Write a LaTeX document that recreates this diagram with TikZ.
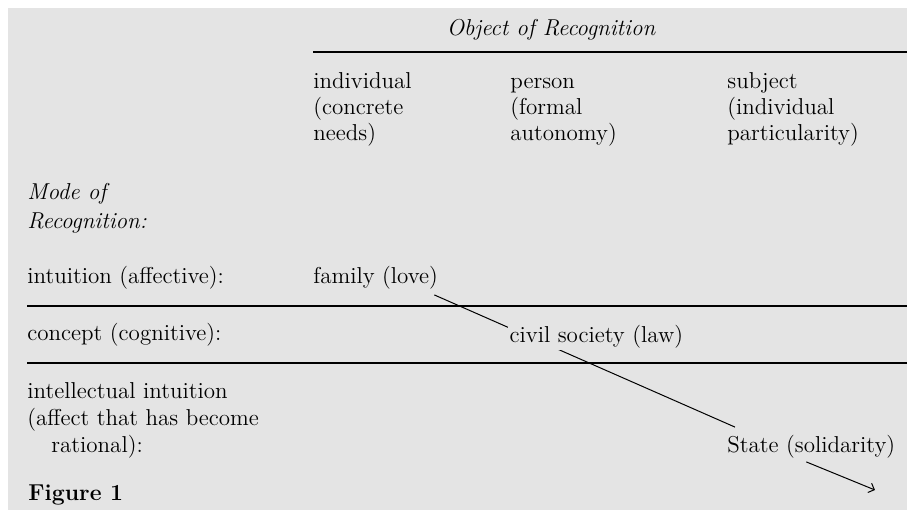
\documentclass[tikz,border=0pt]{standalone}
\usepackage{tikz}
\usetikzlibrary{arrows.meta,positioning}
\definecolor{paper}{RGB}{228,228,228}

\begin{document}
\begin{tikzpicture}[
    x=0.5pt, y=-0.5pt,
    >=Straight Barb,
    txt/.style={inner sep=0pt, anchor=west, align=left, font=\fontsize{11.5}{13.5}\selectfont},
    colhead/.style={txt, anchor=north west, font=\fontsize{11.5}{13}\selectfont},
    head/.style={txt, font=\fontsize{11.5}{14.5}\selectfont\itshape},
    rule/.style={line width=0.7pt},
    link/.style={line width=0.5pt}
]
\useasboundingbox (0,0) rectangle (907,510);
\fill[paper] (8,8) rectangle (907,510);
\node[head, anchor=center] (obj) at (551,30) {Object of Recognition};
\draw[rule] (313,52) -- (907,52);
\node[colhead] (indiv) at (313,70) {\strut individual\\(concrete\\needs)};
\node[colhead] (pers) at (510,70) {\strut person\\(formal\\autonomy)};
\node[colhead] (subj) at (727,70) {\strut subject\\(individual\\particularity)};
\node[head] (mode) at (27,208) {Mode of\\Recognition:};
\node[txt] (intu) at (27,278) {intuition (affective):};
\node[txt] (fam) at (313,278) {family (love)};
\draw[rule] (27,306) -- (907,306);
\node[txt] (conc) at (27,335) {concept (cognitive):};
\draw[rule] (27,363) -- (907,363);
\node[txt] (intel) at (27,420) {intellectual intuition\\(affect that has become\\\hspace*{12pt}rational):};
\node[txt] (state) at (727,447) {State (solidarity)};
\node[txt, font=\fontsize{11.5}{13.5}\selectfont\bfseries] (fig) at (28,495) {Figure 1};
\coordinate (tip) at (875,490);
\draw[link] ([shift={(-4,5)}]fam.south east) -- ([shift={(8,-8)}]state.north west);
\node[txt, fill=paper, inner sep=0.6pt] (civ) at (508,337) {civil society (law)};
\draw[link, ->] ([shift={(-5,3)}]state.south) -- (tip);
\end{tikzpicture}
\end{document}
